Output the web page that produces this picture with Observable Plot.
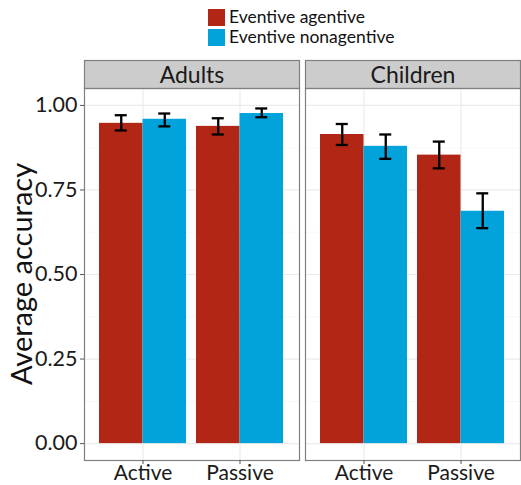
<!DOCTYPE html>
<html><head><meta charset="utf-8">
<script src="https://cdn.jsdelivr.net/npm/d3@7"></script>
<script src="https://cdn.jsdelivr.net/npm/@observablehq/plot@0.6"></script>
<style>
body{margin:0;background:#fff;font-family:Lato,sans-serif;}
#wrap{position:relative;width:521px;height:485px;overflow:hidden}
#legend{position:absolute;left:208px;top:7px;color:#111}
.item{display:flex;align-items:center;height:20px;font-size:17.5px;line-height:20px}
.sw{width:17px;height:17px;margin-right:4px}
#chart{position:absolute;left:0;top:50px}
#ylab{position:absolute;left:20px;top:274px;transform:translate(-50%,-50%) rotate(-90deg);font-size:29px;white-space:nowrap;color:#111}
</style></head>
<body><div id="wrap"><div id="legend"></div><div id="chart"></div><div id="ylab">Average accuracy</div></div>
<script>
const groups = ["Adults", "Children"];
const voices = ["Active", "Passive"];
const conditions = ["Eventive agentive", "Eventive nonagentive"];
const colors = ["#B22615", "#02A3DA"];
const yTicks = [0, 0.25, 0.5, 0.75, 1];
const yMinor = [0.125, 0.375, 0.625, 0.875];

const group     = ["Adults","Adults","Adults","Adults","Children","Children","Children","Children"];
const voice     = ["Active","Active","Passive","Passive","Active","Active","Passive","Passive"];
const condition = ["Eventive agentive","Eventive nonagentive","Eventive agentive","Eventive nonagentive","Eventive agentive","Eventive nonagentive","Eventive agentive","Eventive nonagentive"];
const mean      = [0.947, 0.959, 0.938, 0.976, 0.914, 0.879, 0.853, 0.687];
const lower     = [0.926, 0.938, 0.914, 0.965, 0.883, 0.842, 0.814, 0.637];
const upper     = [0.971, 0.976, 0.962, 0.991, 0.945, 0.914, 0.893, 0.740];

const rows = mean.map((m, i) => ({group: group[i], voice: voice[i], condition: condition[i], mean: m, lo: lower[i], hi: upper[i]}));

// legend
const leg = document.getElementById("legend");
conditions.forEach((c, i) => {
  const it = document.createElement("div"); it.className = "item";
  const sw = document.createElement("div"); sw.className = "sw"; sw.style.background = colors[i];
  const tx = document.createElement("span"); tx.textContent = c;
  it.appendChild(sw); it.appendChild(tx); leg.appendChild(it);
});

const W = 521, H = 435, mL = 84, mR = 1, mT = 38, mB = 25;
const innerH = H - mT - mB;
const capHalf = 6;
const ink = "#1a1a1a";

function spec(bw) {
  const isA = d => d.condition === conditions[0];
  const isN = d => d.condition === conditions[1];
  return {
    width: W, height: H, marginLeft: mL, marginRight: mR, marginTop: mT, marginBottom: mB,
    style: {fontFamily: "Lato, sans-serif", fontSize: "21px", color: ink, background: "#fff", overflow: "visible"},
    facet: {data: rows, x: "group"},
    fx: {domain: groups, padding: 6 / 221, label: null},
    x: {domain: voices, paddingInner: 0.1, paddingOuter: 0.15, label: null},
    y: {domain: [-0.05, 1.05], label: null},
    color: {domain: conditions, range: colors},
    marks: [
      Plot.frame({fill: "#cccccc", stroke: "#808080", strokeWidth: 1.2, insetTop: -28, insetBottom: innerH}),
      Plot.axisFx({anchor: "top", tickSize: 0, tickPadding: 6, label: null, fontSize: 23, fill: ink}),
      Plot.ruleY(yMinor, {stroke: "#f2f2f2", strokeWidth: 0.6}),
      Plot.ruleY(yTicks, {stroke: "#ebebeb", strokeWidth: 1.2}),
      Plot.ruleX(voices, {stroke: "#ebebeb", strokeWidth: 1.2}),
      Plot.barY(rows, {filter: isA, x: "voice", y: "mean", fill: "condition", insetRight: bw / 2}),
      Plot.barY(rows, {filter: isN, x: "voice", y: "mean", fill: "condition", insetLeft: bw / 2}),
      Plot.ruleX(rows, {filter: isA, x: "voice", y1: "lo", y2: "hi", dx: -bw / 4, stroke: "#000", strokeWidth: 2.3}),
      Plot.ruleX(rows, {filter: isN, x: "voice", y1: "lo", y2: "hi", dx: bw / 4, stroke: "#000", strokeWidth: 2.3}),
      Plot.tickY(rows, {filter: isA, x: "voice", y: "hi", insetLeft: bw / 4 - capHalf, insetRight: 3 * bw / 4 - capHalf, stroke: "#000", strokeWidth: 2.3}),
      Plot.tickY(rows, {filter: isA, x: "voice", y: "lo", insetLeft: bw / 4 - capHalf, insetRight: 3 * bw / 4 - capHalf, stroke: "#000", strokeWidth: 2.3}),
      Plot.tickY(rows, {filter: isN, x: "voice", y: "hi", insetLeft: 3 * bw / 4 - capHalf, insetRight: bw / 4 - capHalf, stroke: "#000", strokeWidth: 2.3}),
      Plot.tickY(rows, {filter: isN, x: "voice", y: "lo", insetLeft: 3 * bw / 4 - capHalf, insetRight: bw / 4 - capHalf, stroke: "#000", strokeWidth: 2.3}),
      Plot.frame({stroke: "#808080", strokeWidth: 1.2}),
      Plot.axisX({anchor: "bottom", tickSize: 4, tickPadding: 1, stroke: "#555", fill: ink, fontSize: 21, label: null}),
      Plot.axisY({anchor: "left", ticks: yTicks, tickFormat: ".2f", tickSize: 4, tickPadding: 3, stroke: "#555", fill: ink, fontSize: 21.5, label: null})
    ]
  };
}

let bw = ((W - mL - mR - 6) / 2) / 2.2 * 0.9;
try {
  const probe = Plot.plot(spec(bw));
  const sx = probe.scale("x");
  if (sx && sx.bandwidth) bw = sx.bandwidth;
} catch (e) {}
const chart = Plot.plot(spec(bw));
document.getElementById("chart").appendChild(chart);
</script></body></html>
